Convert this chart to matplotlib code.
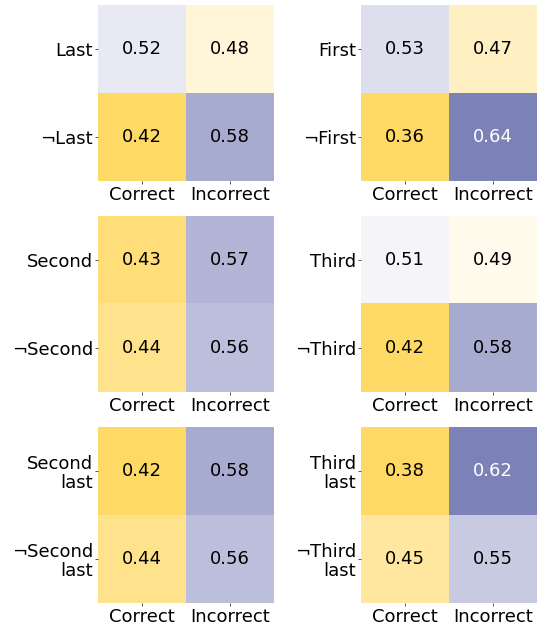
import matplotlib
matplotlib.use("Agg")
import matplotlib.pyplot as plt
import numpy as np
from matplotlib.colors import LinearSegmentedColormap, TwoSlopeNorm

# valori: righe = [posizione, ¬posizione], colonne = [Correct, Incorrect]
col_labels = ["Correct", "Incorrect"]

last = [[0.52, 0.48], [0.42, 0.58]]
first = [[0.53, 0.47], [0.36, 0.64]]
second = [[0.43, 0.57], [0.44, 0.56]]
third = [[0.51, 0.49], [0.42, 0.58]]
second_last = [[0.42, 0.58], [0.44, 0.56]]
third_last = [[0.38, 0.62], [0.45, 0.55]]

row_labels = [["Last", "¬Last"], ["First", "¬First"],
              ["Second", "¬Second"], ["Third", "¬Third"],
              ["Second\nlast", "¬Second\nlast"], ["Third\nlast", "¬Third\nlast"]]
panels = [last, first, second, third, second_last, third_last]

cmap = LinearSegmentedColormap.from_list("gp", ["#FFD966", "#FFFFFF", "#7C82B8"])
norm = TwoSlopeNorm(vmin=0.42, vcenter=0.5, vmax=0.62)

fig = plt.figure(figsize=(5.39, 6.28), dpi=100)

lefts = [98 / 539, 361 / 539]
bottoms = [1 - 181 / 628, 1 - 392 / 628, 1 - 603 / 628]
w = 176 / 539
h = 176 / 628

for i, (data, rl) in enumerate(zip(panels, row_labels)):
    ax = fig.add_axes([lefts[i % 2], bottoms[i // 2], w, h])
    data = np.array(data)
    ax.imshow(data, cmap=cmap, norm=norm, aspect="auto")
    for r in range(2):
        for c in range(2):
            v = data[r, c]
            colore = "white" if v >= 0.6 else "black"
            ax.text(c, r, f"{v:.2f}", ha="center", va="center", fontsize=13, color=colore)
    ax.set_xticks([0, 1])
    ax.set_xticklabels(col_labels, fontsize=13)
    ax.set_yticks([0, 1])
    ax.set_yticklabels(rl, fontsize=13, ha="right", linespacing=1.1)
    ax.tick_params(length=2.5, width=0.7, color="#555555", pad=1)
    for s in ax.spines.values():
        s.set_visible(False)

fig.savefig("out.png", dpi=100)
